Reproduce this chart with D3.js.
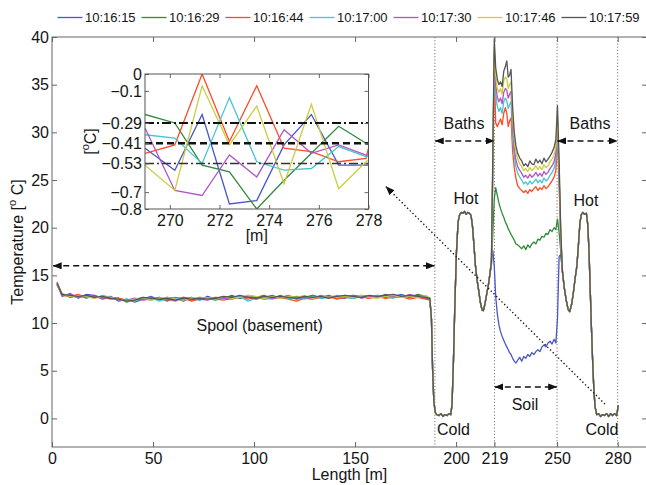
<!DOCTYPE html>
<html>
<head>
<meta charset="utf-8">
<script src="https://cdn.jsdelivr.net/npm/d3@7"></script>
<style>
  body { margin: 0; background: #fff; }
  svg { display: block; font-family: "Liberation Sans", Arial, Helvetica, sans-serif; }
</style>
</head>
<body>
<svg id="chart"></svg>
<script>
// ---- data ----
const seriesNames = ['10:16:15', '10:16:29', '10:16:44', '10:17:00', '10:17:30', '10:17:46', '10:17:59'];

const xTicks = [0, 50, 100, 150, 200, 219, 250, 280];
const yTicks = [0, 5, 10, 15, 20, 25, 30, 35, 40];
const bathMarks = [189.5, 219, 250, 280];

// spool section (0 - 187 m), one array per acquisition
const spoolLength = [2.5, 5, 9, 13, 17, 21, 25, 29, 33, 37, 41, 45, 49, 53, 57, 61, 65, 69, 73, 77, 81, 85, 89, 93,
  97, 101, 105, 109, 113, 117, 121, 125, 129, 133, 137, 141, 145, 149, 153, 157, 161, 165, 169, 173, 177, 181, 185, 187];
const spool1615 = [14.1, 12.8, 13.1, 12.6, 13.0, 12.9, 12.6, 12.8, 12.3, 12.5, 12.2, 12.5, 12.8, 12.4, 12.7, 12.6, 12.3, 12.7, 12.4, 12.8,
  12.5, 12.6, 12.9, 12.6, 12.8, 12.5, 12.7, 12.9, 12.6, 12.8, 12.5, 12.7, 12.9, 12.6, 12.8, 12.7, 12.6, 12.9, 12.8, 12.6,
  12.9, 12.7, 12.8, 13.0, 12.7, 12.9, 12.6, 12.5];
const spool1629 = [14.0, 13.1, 12.7, 12.9, 12.6, 12.9, 12.5, 12.7, 12.6, 12.2, 12.5, 12.6, 12.4, 12.7, 12.3, 12.7, 12.5, 12.4, 12.7, 12.6,
  12.4, 12.7, 12.8, 12.6, 12.9, 12.7, 12.9, 12.6, 12.9, 12.6, 12.8, 12.6, 12.9, 12.7, 12.9, 12.6, 12.9, 12.7, 12.9, 12.8,
  12.7, 13.0, 12.8, 12.9, 12.7, 13.0, 12.8, 12.6];
const spool1644 = [14.3, 12.9, 12.8, 13.0, 12.7, 12.8, 12.7, 12.5, 12.6, 12.4, 12.3, 12.6, 12.5, 12.6, 12.4, 12.5, 12.7, 12.3, 12.5, 12.7,
  12.5, 12.4, 12.6, 12.8, 12.5, 12.7, 12.5, 12.6, 12.7, 12.5, 12.3, 12.6, 12.5, 12.7, 12.8, 12.5, 12.7, 12.6, 12.8, 12.6,
  12.8, 12.6, 12.7, 12.8, 12.5, 12.7, 12.5, 12.4];
const spool1700 = [14.0, 13.0, 12.8, 12.7, 12.8, 12.6, 12.9, 12.7, 12.4, 12.5, 12.3, 12.6, 12.7, 12.3, 12.5, 12.6, 12.5, 12.7, 12.4, 12.6,
  12.7, 12.5, 12.7, 12.8, 12.3, 12.6, 12.7, 12.5, 12.8, 12.6, 12.7, 12.5, 12.8, 12.6, 12.7, 12.9, 12.7, 12.6, 12.8, 12.7,
  12.9, 12.8, 12.6, 12.9, 12.8, 12.7, 12.8, 12.6];
const spool1730 = [14.1, 12.9, 13.0, 12.7, 12.9, 12.8, 12.6, 12.7, 12.4, 12.4, 12.6, 12.4, 12.5, 12.7, 12.5, 12.3, 12.7, 12.6, 12.5, 12.4,
  12.7, 12.6, 12.5, 12.7, 12.8, 12.6, 12.8, 12.6, 12.7, 12.9, 12.6, 12.7, 12.6, 12.9, 12.7, 12.8, 12.7, 12.9, 12.6, 12.8,
  12.7, 12.9, 12.8, 12.7, 13.0, 12.8, 12.7, 12.5];
const spool1746 = [14.2, 13.1, 12.8, 12.9, 12.8, 12.6, 12.8, 12.7, 12.5, 12.3, 12.5, 12.7, 12.4, 12.6, 12.7, 12.5, 12.4, 12.6, 12.7, 12.6,
  12.5, 12.8, 12.6, 12.7, 12.9, 12.8, 12.6, 12.8, 12.6, 12.8, 12.7, 12.9, 12.6, 12.8, 12.7, 12.7, 12.8, 12.7, 12.9, 12.7,
  12.6, 12.8, 12.9, 12.7, 12.8, 12.7, 12.9, 12.6];
const spool1759 = [14.2, 13.0, 12.9, 12.8, 12.9, 12.7, 12.8, 12.6, 12.5, 12.3, 12.4, 12.7, 12.6, 12.5, 12.6, 12.4, 12.6, 12.5, 12.6, 12.5,
  12.6, 12.8, 12.7, 12.9, 12.7, 12.6, 12.8, 12.7, 12.8, 12.7, 12.6, 12.8, 12.7, 12.8, 12.6, 12.8, 12.9, 12.8, 12.7, 12.9,
  12.8, 12.9, 13.0, 12.8, 12.9, 12.8, 12.7, 12.6];

// cold + hot bath before the soil (all acquisitions coincide here)
const bathLeftLength = [187.8, 188.4, 189.0, 189.7, 190.5, 191.5, 192.5, 193.5, 194.5, 195.5, 196.5, 197.4, 198.0, 198.7, 199.4,
  200.2, 201.0, 201.8, 202.6, 203.4, 204.2, 205.0, 205.8, 206.6, 207.4, 208.1, 208.8, 209.6, 210.4, 211.2, 212.0, 212.8,
  213.5, 214.3, 215.2, 216.0, 216.8];
const bathLeft = [10.5, 5.0, 1.8, 0.6, 0.4, 0.3, 0.5, 0.2, 0.4, 0.3, 0.5, 0.4, 1.5, 6.0, 12.0, 17.5, 20.6, 21.4, 21.6, 21.5,
  21.7, 21.4, 21.6, 21.5, 21.3, 20.2, 18.3, 16.0, 14.5, 13.4, 12.2, 11.4, 11.3, 12.0, 13.1, 14.0, 15.2];

// soil section (219 - 250 m), one array per acquisition
const soilLength = [217.5, 218.2, 218.9, 219.6, 220.4, 221.2, 222.0, 222.8, 223.6, 224.4, 225.1, 225.8, 226.5, 227.2, 228.0,
  228.8, 229.6, 230.5, 231.5, 232.5, 233.5, 234.5, 235.5, 236.5, 237.5, 238.5, 239.5, 240.5, 241.5, 242.5, 243.5, 244.5,
  245.5, 246.5, 247.5, 248.5, 249.4, 250.2, 251.0, 251.8];
const soil1615 = [16.8, 17.6, 16.0, 12.8, 11.0, 9.8, 9.1, 8.6, 8.2, 7.8, 7.5, 7.2, 6.9, 6.7, 6.3, 6.0, 5.8, 6.1, 6.4, 6.0,
  6.5, 6.3, 6.7, 6.5, 6.9, 6.7, 7.0, 7.2, 7.0, 7.5, 7.7, 7.5, 7.9, 8.1, 7.8, 8.3, 7.9, 10.5, 17.0, 17.2];
const soil1629 = [16.0, 19.5, 23.0, 24.2, 23.4, 22.6, 22.0, 21.5, 21.1, 20.6, 20.3, 19.9, 19.6, 19.3, 19.0, 18.7, 18.3, 18.2, 18.0, 17.8,
  18.1, 17.7, 18.2, 17.9, 18.3, 18.5, 18.3, 18.8, 18.7, 19.1, 19.0, 19.4, 19.3, 19.8, 19.6, 20.0, 19.8, 20.9, 19.5, 17.5];
const soil1644 = [16.2, 26.0, 37.0, 31.0, 30.6, 31.0, 31.4, 30.8, 32.0, 32.6, 32.0, 30.6, 31.2, 31.5, 28.0, 26.3, 25.2, 24.4, 24.1, 23.9,
  23.7, 23.9, 23.6, 24.0, 23.8, 24.1, 24.3, 23.9, 24.2, 24.0, 24.4, 24.1, 24.3, 24.6, 24.9, 25.3, 26.0, 29.6, 24.5, 18.8];
const soil1700 = [16.3, 26.5, 37.8, 34.0, 32.7, 32.2, 32.6, 32.0, 33.2, 33.6, 33.3, 32.5, 32.9, 33.2, 29.4, 27.6, 26.4, 25.7, 25.3, 25.0,
  24.6, 24.8, 24.5, 24.9, 24.6, 24.8, 25.1, 24.7, 25.0, 24.7, 25.2, 24.9, 25.1, 25.5, 25.8, 26.2, 27.1, 30.3, 25.0, 19.0];
const soil1730 = [16.4, 27.0, 38.4, 35.0, 33.7, 33.2, 33.6, 33.0, 34.2, 34.6, 34.4, 33.6, 34.0, 34.3, 30.4, 28.3, 27.1, 26.4, 26.0, 25.7,
  25.3, 25.5, 25.2, 25.6, 25.3, 25.5, 25.8, 25.4, 25.7, 25.4, 25.9, 25.6, 25.8, 26.2, 26.5, 26.9, 27.8, 31.0, 25.6, 19.3];
const soil1746 = [16.5, 27.5, 39.0, 36.0, 34.6, 34.2, 34.6, 34.0, 35.4, 35.8, 35.6, 34.6, 35.0, 35.3, 31.6, 29.2, 28.0, 27.2, 26.7, 26.4,
  26.0, 26.2, 25.9, 26.3, 26.0, 26.2, 26.5, 26.1, 26.4, 26.1, 26.6, 26.3, 26.5, 26.9, 27.2, 27.6, 28.5, 31.8, 26.2, 19.6];
const soil1759 = [16.5, 28.0, 39.8, 36.8, 35.6, 35.0, 35.3, 34.8, 36.4, 36.9, 37.5, 35.8, 36.0, 36.6, 32.6, 30.0, 28.6, 27.8, 27.3, 27.0,
  26.5, 26.7, 26.4, 27.0, 26.7, 26.6, 27.2, 26.8, 27.1, 26.7, 27.3, 26.9, 27.2, 27.5, 27.9, 28.4, 29.3, 32.8, 27.0, 20.0];

// hot + cold bath after the soil (all acquisitions coincide here)
const bathRightLength = [252.6, 253.5, 254.5, 255.5, 256.3, 257.2, 258.0, 259.0, 259.8, 260.5, 261.3, 262.0, 262.8, 263.6, 264.5,
  265.2, 265.8, 266.4, 267.0, 267.6, 268.2, 268.8, 269.6, 270.5, 271.5, 272.5, 273.5, 274.5, 275.5, 276.5, 277.5, 278.5, 279.5, 280.3];
const bathRight = [15.5, 13.8, 12.4, 11.4, 11.2, 12.0, 13.1, 14.8, 16.0, 18.0, 20.5, 21.4, 21.6, 21.4, 21.5, 20.3, 17.5, 13.5, 9.5, 6.0,
  3.0, 1.2, 0.4, 0.5, 0.2, 0.4, 0.3, 0.5, 0.2, 0.5, 0.3, 0.5, 0.3, 1.4];

// inset: cold bath 269 - 278 m
const insetXTicks = [270, 272, 274, 276, 278];
const insetYTicks = [0, -0.1, -0.29, -0.41, -0.53, -0.7, -0.8];
const insetLength = [269.0, 270.2, 271.3, 272.4, 273.5, 274.6, 275.7, 276.8, 277.9, 278.0];
const inset1615 = [-0.44, -0.57, -0.24, -0.77, -0.75, -0.42, -0.24, -0.54, -0.54, -0.54];
const inset1629 = [-0.24, -0.29, -0.54, -0.58, -0.80, -0.63, -0.47, -0.31, -0.41, -0.42];
const inset1644 = [-0.47, -0.42, 0.00, -0.40, -0.07, -0.44, -0.46, -0.52, -0.50, -0.44];
const inset1700 = [-0.36, -0.38, -0.53, -0.14, -0.52, -0.57, -0.56, -0.43, -0.49, -0.49];
const inset1730 = [-0.32, -0.69, -0.72, -0.48, -0.61, -0.33, -0.47, -0.42, -0.48, -0.48];
const inset1746 = [-0.54, -0.69, -0.07, -0.42, -0.19, -0.65, -0.18, -0.68, -0.52, -0.51];
const insetLevels = [-0.29, -0.41, -0.53];

const colours = ['#4a55c8', '#2f8a3a', '#ff4a24', '#45c6d2', '#b055c2', '#cccc3c', '#555555'];

const spools = [spool1615, spool1629, spool1644, spool1700, spool1730, spool1746, spool1759];
const soils = [soil1615, soil1629, soil1644, soil1700, soil1730, soil1746, soil1759];
const insets = [inset1615, inset1629, inset1644, inset1700, inset1730, inset1746];

const pairs = (xs, ys) => xs.map((x, i) => [x, ys[i]]);

const profiles = seriesNames.map((name, i) => ({
  name: name,
  colour: colours[i],
  values: [].concat(pairs(spoolLength, spools[i]), pairs(bathLeftLength, bathLeft),
    pairs(soilLength, soils[i]), pairs(bathRightLength, bathRight))
}));

const insetProfiles = insets.map((vals, i) => ({
  name: seriesNames[i],
  colour: colours[i],
  values: pairs(insetLength, vals)
}));


class TemperatureProfileChart {

  constructor(_config, data, insetData) {
    this.config = {
      parentElement: _config.parentElement,
      containerWidth: _config.width,
      containerHeight: _config.height,
      margin: { top: 37, right: -1, bottom: 38, left: 52 },
      inset: { left: 145, top: 74, width: 223.5, height: 135 }
    };
    this.data = data;
    this.insetData = insetData;
    this.initVis();
  }

  initVis() {
    let vis = this;

    vis.config.width = vis.config.containerWidth - vis.config.margin.left - vis.config.margin.right;
    vis.config.height = vis.config.containerHeight - vis.config.margin.top - vis.config.margin.bottom;

    vis.svg = d3.select(vis.config.parentElement)
      .attr('width', vis.config.containerWidth)
      .attr('height', vis.config.containerHeight);

    // arrow heads for the annotations
    const defs = vis.svg.append('defs');
    defs.append('marker')
      .attr('id', 'head')
      .attr('markerUnits', 'userSpaceOnUse')
      .attr('markerWidth', 9).attr('markerHeight', 7)
      .attr('refX', 8.5).attr('refY', 3.5)
      .attr('orient', 'auto-start-reverse')
      .append('path')
      .attr('d', 'M0,0 L9,3.5 L0,7 Z')
      .attr('fill', '#111');

    defs.append('clipPath').attr('id', 'mainClip')
      .append('rect')
      .attr('width', vis.config.width)
      .attr('height', vis.config.height);

    defs.append('clipPath').attr('id', 'insetClip')
      .append('rect')
      .attr('width', vis.config.inset.width)
      .attr('height', vis.config.inset.height);

    vis.chartArea = vis.svg.append('g')
      .attr('transform', `translate(${vis.config.margin.left},${vis.config.margin.top})`);

    vis.xScale = d3.scaleLinear().domain([0, 294.5]).range([0, vis.config.width]);
    vis.yScale = d3.scaleLinear().domain([-3, 40]).range([vis.config.height, 0]);

    // inset scales
    vis.insetX = d3.scaleLinear().domain([269, 278]).range([0, vis.config.inset.width]);
    vis.insetY = d3.scaleLinear().domain([-0.8, 0]).range([vis.config.inset.height, 0]);

    vis.renderVis();
  }

  styleAxis(g, withLabels) {
    g.attr('font-size', 16).attr('font-family', null);
    g.select('.domain').remove();
    g.selectAll('.tick line').attr('stroke', '#666');
    g.selectAll('.tick text').attr('fill', '#151515');
    if (!withLabels) g.selectAll('.tick text').remove();
  }

  renderVis() {
    let vis = this;
    const w = vis.config.width, h = vis.config.height;

    // vertical dotted markers for the bath / soil boundaries
    vis.chartArea.selectAll('.bath-mark')
      .data(bathMarks)
      .join('line')
      .attr('class', 'bath-mark')
      .attr('x1', d => vis.xScale(d)).attr('x2', d => vis.xScale(d))
      .attr('y1', 0).attr('y2', h)
      .attr('stroke', '#777')
      .attr('stroke-width', 1)
      .attr('stroke-dasharray', '1.2,2');

    const line = d3.line()
      .x(d => vis.xScale(d[0]))
      .y(d => vis.yScale(d[1]));

    vis.chartArea.append('g')
      .attr('clip-path', 'url(#mainClip)')
      .selectAll('.profile')
      .data(vis.data)
      .join('path')
      .attr('class', 'profile')
      .attr('fill', 'none')
      .attr('stroke', d => d.colour)
      .attr('stroke-width', 1.3)
      .attr('stroke-linejoin', 'round')
      .attr('d', d => line(d.values));

    // axes, ticks pointing inwards on all four sides
    vis.chartArea.append('g')
      .attr('transform', `translate(0,${h})`)
      .call(d3.axisBottom(vis.xScale).tickValues(xTicks).tickSize(-5).tickPadding(6).tickSizeOuter(0))
      .call(g => vis.styleAxis(g, true));
    vis.chartArea.append('g')
      .call(d3.axisTop(vis.xScale).tickValues(xTicks).tickSize(-5).tickSizeOuter(0))
      .call(g => vis.styleAxis(g, false));
    vis.chartArea.append('g')
      .call(d3.axisLeft(vis.yScale).tickValues(yTicks).tickSize(-5).tickPadding(3).tickSizeOuter(0))
      .call(g => vis.styleAxis(g, true));
    vis.chartArea.append('g')
      .attr('transform', `translate(${w},0)`)
      .call(d3.axisRight(vis.yScale).tickValues(yTicks).tickSize(-5).tickSizeOuter(0))
      .call(g => vis.styleAxis(g, false));

    vis.chartArea.append('rect')
      .attr('width', w).attr('height', h)
      .attr('fill', 'none')
      .attr('stroke', '#666')
      .attr('stroke-width', 1);

    // axis titles
    vis.chartArea.append('text')
      .attr('x', w / 2)
      .attr('y', h + 33)
      .attr('font-size', 16)
      .attr('text-anchor', 'middle')
      .attr('fill', '#151515')
      .text('Length  [m]');

    const yTitle = vis.svg.append('text')
      .attr('transform', `translate(23,${vis.config.margin.top + h / 2}) rotate(-90)`)
      .attr('font-size', 16)
      .attr('text-anchor', 'middle')
      .attr('fill', '#151515');
    yTitle.append('tspan').text('Temperature  [');
    yTitle.append('tspan').attr('font-size', 11).attr('dy', -7).text('o');
    yTitle.append('tspan').attr('dy', 7).text(' C]');

    // annotations (placed in data units)
    const ann = vis.chartArea.append('g').attr('fill', '#151515').attr('font-size', 16).attr('text-anchor', 'middle');
    const label = (x, y, t) => ann.append('text').attr('x', vis.xScale(x)).attr('y', vis.yScale(y)).text(t);
    label(102.8, 9.2, 'Spool (basement)');
    label(203.9, 30.4, 'Baths');
    label(266.3, 30.4, 'Baths');
    label(204.9, 22.5, 'Hot');
    label(264.3, 22.3, 'Hot');
    label(198.7, -1.75, 'Cold');
    label(272.2, -1.75, 'Cold');
    label(234.1, 0.9, 'Soil');

    const arrow = (x1, y1, x2, y2, dash, both) => vis.chartArea.append('line')
      .attr('x1', vis.xScale(x1)).attr('y1', vis.yScale(y1))
      .attr('x2', vis.xScale(x2)).attr('y2', vis.yScale(y2))
      .attr('stroke', '#111')
      .attr('stroke-width', both ? 1.5 : 1.3)
      .attr('stroke-dasharray', dash)
      .attr('marker-start', both ? 'url(#head)' : null)
      .attr('marker-end', 'url(#head)');
    arrow(0.6, 16.0, 189.3, 16.0, '6,4', true);
    arrow(189.7, 29.1, 218.8, 29.1, '6,4', true);
    arrow(250.2, 29.1, 279.8, 29.1, '6,4', true);
    arrow(219.2, 3.3, 249.8, 3.3, '6,4', true);
    arrow(273.7, 1.5, 165.3, 24.3, '1.4,2.4', false);

    // legend
    const legendItem = vis.svg.append('g')
      .selectAll('.legend-item')
      .data(vis.data)
      .join('g')
      .attr('class', 'legend-item')
      .attr('transform', (d, i) => `translate(${57.5 + i * 84},0)`);
    legendItem.append('line')
      .attr('x1', 0).attr('x2', 25)
      .attr('y1', 17.5).attr('y2', 17.5)
      .attr('stroke', d => d.colour)
      .attr('stroke-width', 1.3);
    legendItem.append('text')
      .attr('x', 27.5).attr('y', 22)
      .attr('font-size', 13)
      .attr('fill', '#151515')
      .text(d => d.name);

    vis.renderInset();
  }

  renderInset() {
    let vis = this;
    const cfg = vis.config.inset;

    const inset = vis.svg.append('g')
      .attr('transform', `translate(${cfg.left},${cfg.top})`);

    inset.append('rect')
      .attr('width', cfg.width).attr('height', cfg.height)
      .attr('fill', '#fff');

    const line = d3.line()
      .x(d => vis.insetX(d[0]))
      .y(d => vis.insetY(d[1]));

    const plot = inset.append('g').attr('clip-path', 'url(#insetClip)');
    plot.selectAll('.inset-profile')
      .data(vis.insetData)
      .join('path')
      .attr('class', 'inset-profile')
      .attr('fill', 'none')
      .attr('stroke', d => d.colour)
      .attr('stroke-width', 1.3)
      .attr('d', d => line(d.values));

    // reference levels: dash-dot, dashed, thin dash-dot
    const levelStyle = [
      { dash: '9,3,2,3', width: 2, colour: '#111' },
      { dash: '7,4', width: 2.5, colour: '#111' },
      { dash: '9,3,2,3', width: 1.5, colour: '#333' }
    ];
    plot.selectAll('.level')
      .data(insetLevels)
      .join('line')
      .attr('class', 'level')
      .attr('x1', 0).attr('x2', cfg.width)
      .attr('y1', d => vis.insetY(d)).attr('y2', d => vis.insetY(d))
      .attr('stroke', (d, i) => levelStyle[i].colour)
      .attr('stroke-width', (d, i) => levelStyle[i].width)
      .attr('stroke-dasharray', (d, i) => levelStyle[i].dash);

    const fmt = d3.format('');
    inset.append('g')
      .attr('transform', `translate(0,${cfg.height})`)
      .call(d3.axisBottom(vis.insetX).tickValues(insetXTicks).tickSize(-4).tickPadding(6).tickSizeOuter(0))
      .call(g => vis.styleAxis(g, true));
    inset.append('g')
      .call(d3.axisTop(vis.insetX).tickValues(insetXTicks).tickSize(-4).tickSizeOuter(0))
      .call(g => vis.styleAxis(g, false));
    inset.append('g')
      .call(d3.axisLeft(vis.insetY).tickValues(insetYTicks).tickFormat(fmt).tickSize(-4).tickPadding(3).tickSizeOuter(0))
      .call(g => vis.styleAxis(g, true));
    inset.append('g')
      .attr('transform', `translate(${cfg.width},0)`)
      .call(d3.axisRight(vis.insetY).tickValues(insetYTicks).tickSize(-4).tickSizeOuter(0))
      .call(g => vis.styleAxis(g, false));

    inset.append('rect')
      .attr('width', cfg.width).attr('height', cfg.height)
      .attr('fill', 'none')
      .attr('stroke', '#555')
      .attr('stroke-width', 1);

    inset.append('text')
      .attr('x', cfg.width / 2)
      .attr('y', cfg.height + 32)
      .attr('font-size', 16)
      .attr('text-anchor', 'middle')
      .attr('fill', '#151515')
      .text('[m]');

    const yLab = inset.append('text')
      .attr('transform', `translate(-49,${cfg.height / 2}) rotate(-90)`)
      .attr('font-size', 16)
      .attr('text-anchor', 'middle')
      .attr('fill', '#151515');
    yLab.append('tspan').text('[');
    yLab.append('tspan').attr('font-size', 11).attr('dy', -7).text('o');
    yLab.append('tspan').attr('dy', 7).text('C]');
  }
}

new TemperatureProfileChart({ parentElement: '#chart', width: 646, height: 485 }, profiles, insetProfiles);
</script>
</body>
</html>
